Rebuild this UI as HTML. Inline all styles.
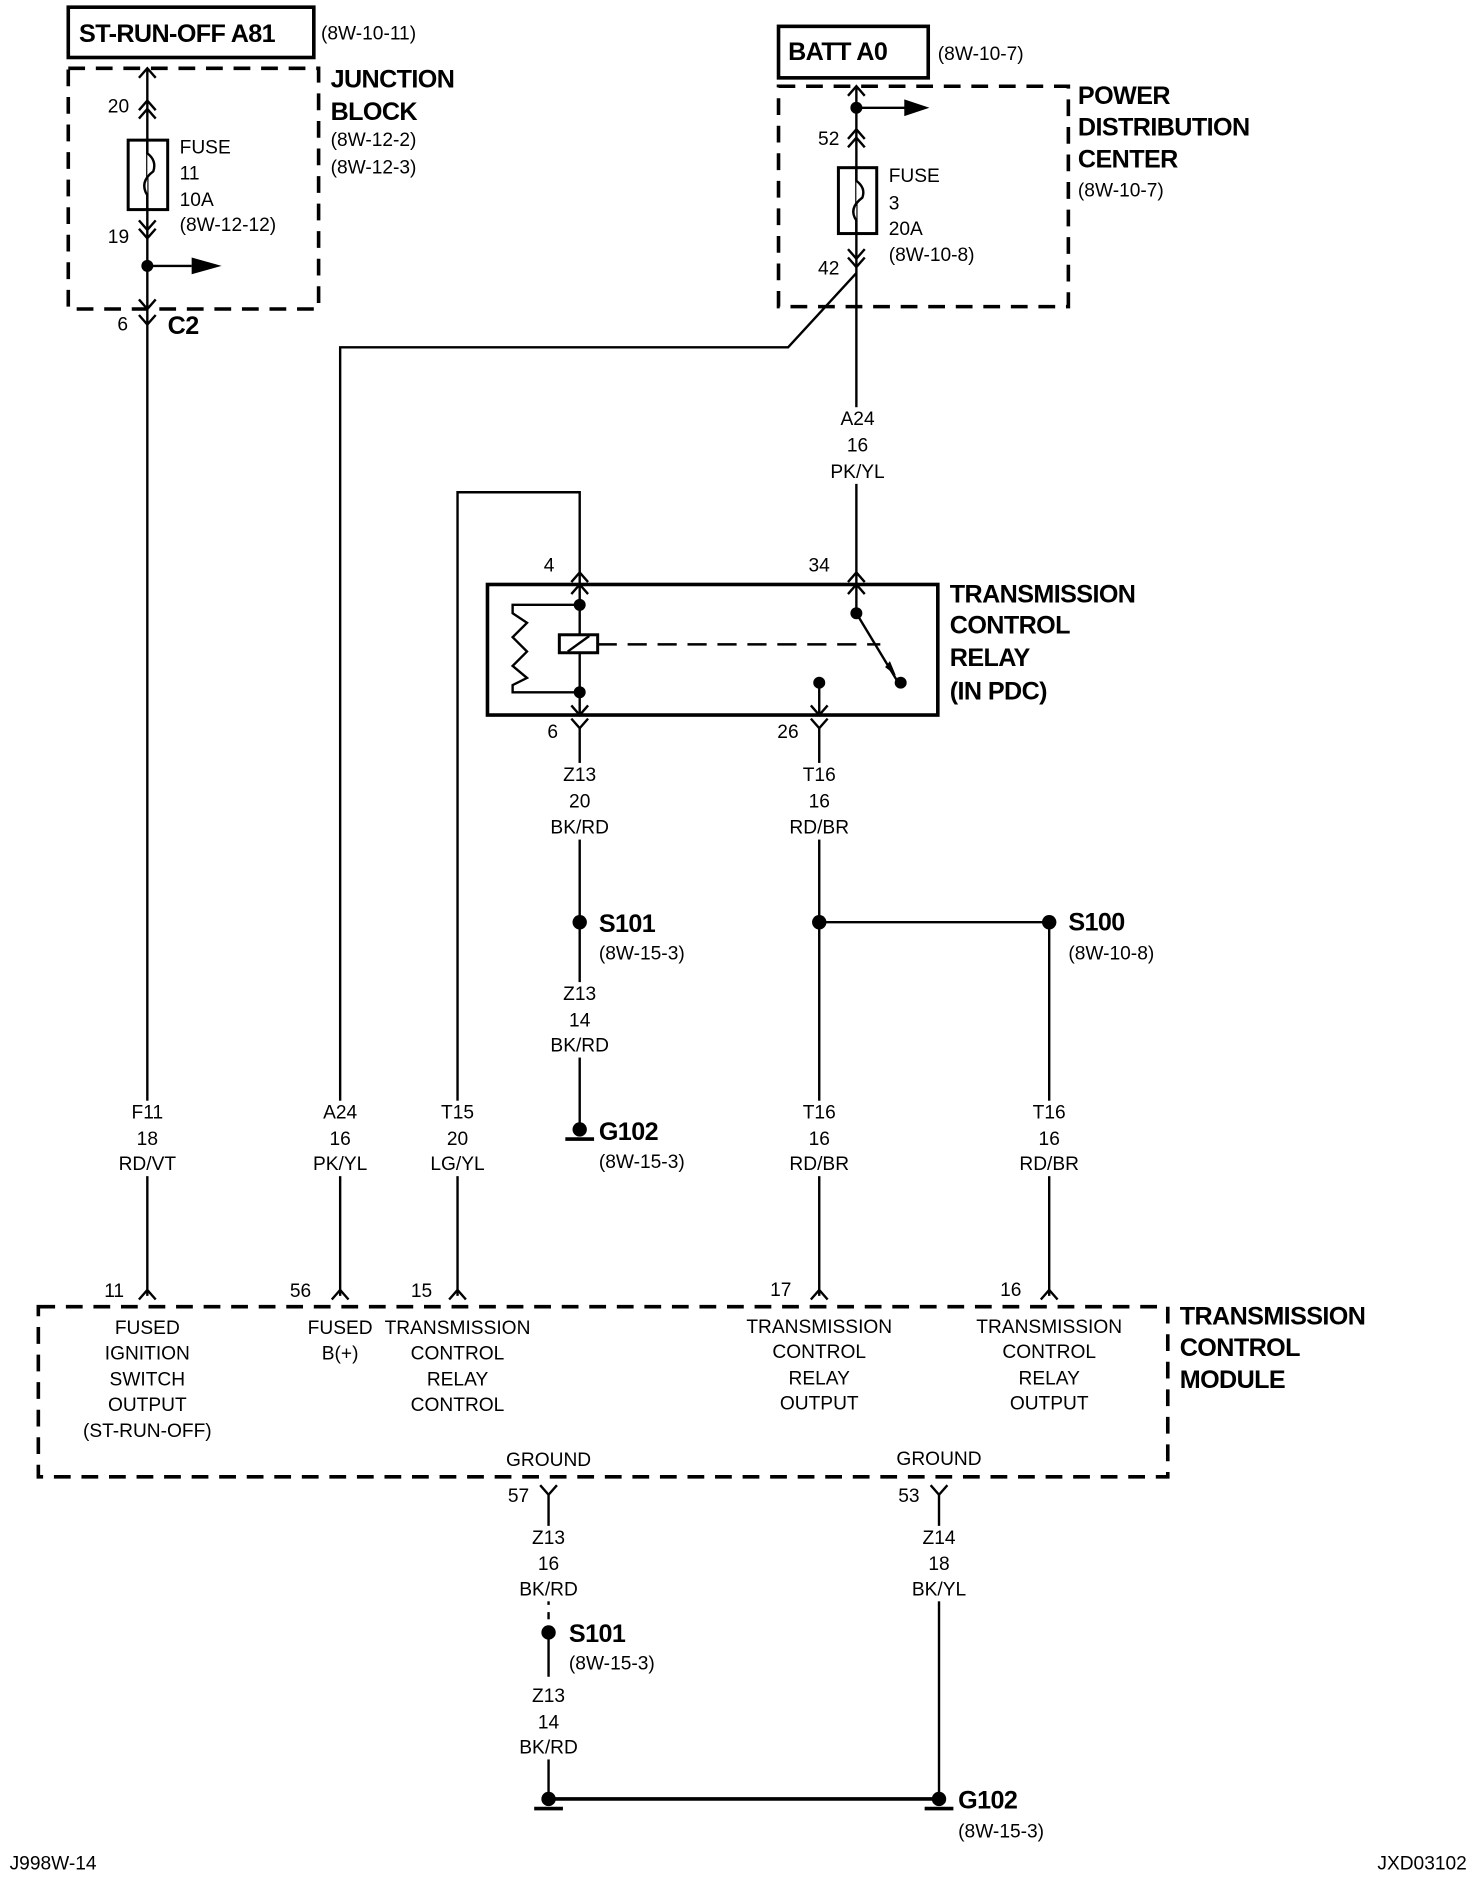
<!DOCTYPE html>
<html><head><meta charset="utf-8"><style>
html,body{margin:0;padding:0;background:#fff;}
svg{display:block;}
text{font-family:"Liberation Sans Narrow","Liberation Sans",sans-serif;fill:#000;}
.s{font-size:16px;}
.b{font-size:21px;font-weight:bold;letter-spacing:-0.5px;}
.c{text-anchor:middle;}
</style></head><body>
<svg width="1472" height="1878" viewBox="0 0 1229 1568" xmlns="http://www.w3.org/2000/svg">
<g fill="none" stroke="#000" stroke-width="2">
<!-- top-left -->
<rect x="57" y="6" width="205" height="42" stroke-width="3"/>
<rect x="57" y="57" width="209" height="201" stroke-width="3" stroke-dasharray="14,9"/>
<line x1="123" y1="57" x2="123" y2="1082"/>
<path d="M116 65 L123 57 L130 65"/>
<path d="M116 92 L123 84 L130 92 M116 99 L123 91 L130 99"/>
<rect x="107" y="117" width="33" height="58" stroke-width="2.5"/>
<path d="M123 117 L123 128 Q131 134 128 143 Q116 152 123 163 L123 175" fill="#fff"/>
<path d="M116 184 L123 192 L130 184 M116 191 L123 199 L130 191"/>
<line x1="123" y1="222" x2="160" y2="222"/>
<path d="M116 250 L123 258 L130 250"/>
<path d="M116 263 L123 271 L130 263"/>
<!-- top-right -->
<rect x="650" y="22" width="125" height="43" stroke-width="3"/>
<rect x="650" y="72" width="242" height="184" stroke-width="3" stroke-dasharray="14,9"/>
<line x1="715" y1="72" x2="715" y2="488"/>
<path d="M708 80 L715 72 L722 80"/>
<line x1="715" y1="90" x2="758" y2="90"/>
<path d="M708 116 L715 108 L722 116 M708 123 L715 115 L722 123"/>
<rect x="700" y="140" width="32" height="55" stroke-width="2.5"/>
<path d="M715 140 L715 151 Q723 157 720 165 Q708 174 715 184 L715 195" fill="#fff"/>
<path d="M708 208 L715 216 L722 208 M708 215 L715 223 L722 215"/>
<path d="M715 228 L658 290 L284 290 L284 1082"/>
<!-- relay -->
<path d="M382 1082 L382 411 L484 411 L484 488"/>
<path d="M477 486 L484 478 L491 486"/>
<path d="M708 486 L715 478 L722 486"/>
<path d="M477 496 L484 488 L491 496"/>
<path d="M708 496 L715 488 L722 496"/>
<rect x="407" y="488" width="376" height="109" stroke-width="3"/>
<line x1="484" y1="488" x2="484" y2="597"/>
<rect x="467" y="530" width="32" height="15" fill="#fff" stroke-width="2.5"/>
<line x1="474" y1="544" x2="492" y2="531"/>
<path d="M484 505 L428 505 L428 512 L440 520 L428 532 L440 544 L428 556 L440 566 L428 572 L428 578 L484 578"/>
<line x1="499" y1="538" x2="735" y2="538" stroke-dasharray="16,9"/>
<line x1="715" y1="488" x2="715" y2="512"/>
<line x1="715" y1="512" x2="750" y2="570"/>
<line x1="684" y1="570" x2="684" y2="597"/>
<path d="M677 589 L684 597 L691 589"/>
<path d="M477 589 L484 597 L491 589"/>
<path d="M477 600 L484 608 L491 600"/>
<path d="M677 600 L684 608 L691 600"/>
<line x1="484" y1="608" x2="484" y2="943"/>
<line x1="684" y1="608" x2="684" y2="1082"/>
<line x1="684" y1="770" x2="876" y2="770"/>
<line x1="876" y1="770" x2="876" y2="1082"/>
<line x1="472" y1="951" x2="496" y2="951" stroke-width="3"/>
<!-- TCM -->
<rect x="32" y="1091" width="943" height="142" stroke-width="3" stroke-dasharray="14,9"/>
<path d="M116 1085 L123 1077 L130 1085 M277 1085 L284 1077 L291 1085 M375 1085 L382 1077 L389 1085 M677 1085 L684 1077 L691 1085 M869 1085 L876 1077 L883 1085"/>
<path d="M451 1240 L458 1248 L465 1240 M777 1240 L784 1248 L791 1240"/>
<line x1="458" y1="1248" x2="458" y2="1340"/>
<line x1="458" y1="1346" x2="458" y2="1352"/>
<line x1="458" y1="1363" x2="458" y2="1400"/>
<line x1="458" y1="1440" x2="458" y2="1502"/>
<line x1="784" y1="1248" x2="784" y2="1502"/>
<line x1="458" y1="1502" x2="784" y2="1502" stroke-width="3"/>
<line x1="446" y1="1510" x2="470" y2="1510" stroke-width="3"/>
<line x1="772" y1="1510" x2="796" y2="1510" stroke-width="3"/>
</g>
<g fill="#000">
<circle cx="123" cy="222" r="5"/><path d="M160 215 L185 222 L160 229Z"/>
<circle cx="715" cy="90" r="5"/><path d="M755 83 L776 90 L755 97Z"/>
<circle cx="484" cy="505" r="5"/><circle cx="484" cy="578" r="5"/>
<circle cx="715" cy="512" r="5"/><circle cx="752" cy="570" r="5"/><circle cx="684" cy="570" r="5"/>
<path d="M743 552 L748 564 L739 557Z"/>
<circle cx="484" cy="770" r="6"/><circle cx="684" cy="770" r="6"/><circle cx="876" cy="770" r="6"/>
<circle cx="484" cy="943" r="6"/>
<circle cx="458" cy="1363" r="6"/>
<circle cx="458" cy="1502" r="6"/><circle cx="784" cy="1502" r="6"/>
</g>
<!-- white masks behind wire labels -->
<g fill="#fff">
<rect x="690" y="340" width="52" height="64"/>
<rect x="456" y="637" width="56" height="64"/>
<rect x="656" y="637" width="56" height="64"/>
<rect x="456" y="820" width="56" height="63"/>
<rect x="95" y="919" width="56" height="63"/>
<rect x="256" y="919" width="56" height="63"/>
<rect x="354" y="919" width="56" height="63"/>
<rect x="656" y="919" width="56" height="63"/>
<rect x="848" y="919" width="56" height="63"/>
<rect x="430" y="1274" width="56" height="63"/>
<rect x="430" y="1406" width="56" height="63"/>
<rect x="756" y="1274" width="56" height="63"/>
</g>
<text class="b" x="66" y="35">ST-RUN-OFF A81</text>
<text class="s" x="268" y="33">(8W-10-11)</text>
<text class="b" x="276" y="73">JUNCTION</text>
<text class="b" x="276" y="100">BLOCK</text>
<text class="s" x="276" y="122">(8W-12-2)</text>
<text class="s" x="276" y="145">(8W-12-3)</text>
<text class="s" x="150" y="128">FUSE</text>
<text class="s" x="150" y="150">11</text>
<text class="s" x="150" y="172">10A</text>
<text class="s" x="150" y="193">(8W-12-12)</text>
<text class="s" x="90" y="94">20</text>
<text class="s" x="90" y="203">19</text>
<text class="s" x="98" y="276">6</text>
<text class="b" x="140" y="279">C2</text>

<text class="b" x="658" y="50">BATT A0</text>
<text class="s" x="783" y="50">(8W-10-7)</text>
<text class="b" x="900" y="87">POWER</text>
<text class="b" x="900" y="113">DISTRIBUTION</text>
<text class="b" x="900" y="140">CENTER</text>
<text class="s" x="900" y="164">(8W-10-7)</text>
<text class="s" x="742" y="152">FUSE</text>
<text class="s" x="742" y="175">3</text>
<text class="s" x="742" y="196">20A</text>
<text class="s" x="742" y="218">(8W-10-8)</text>
<text class="s" x="683" y="121">52</text>
<text class="s" x="683" y="229">42</text>
<g class="s c">
<text x="716" y="355">A24</text><text x="716" y="377">16</text><text x="716" y="399">PK/YL</text>
<text x="484" y="652">Z13</text><text x="484" y="674">20</text><text x="484" y="696">BK/RD</text>
<text x="684" y="652">T16</text><text x="684" y="674">16</text><text x="684" y="696">RD/BR</text>
<text x="484" y="835">Z13</text><text x="484" y="857">14</text><text x="484" y="878">BK/RD</text>
<text x="123" y="934">F11</text><text x="123" y="956">18</text><text x="123" y="977">RD/VT</text>
<text x="284" y="934">A24</text><text x="284" y="956">16</text><text x="284" y="977">PK/YL</text>
<text x="382" y="934">T15</text><text x="382" y="956">20</text><text x="382" y="977">LG/YL</text>
<text x="684" y="934">T16</text><text x="684" y="956">16</text><text x="684" y="977">RD/BR</text>
<text x="876" y="934">T16</text><text x="876" y="956">16</text><text x="876" y="977">RD/BR</text>
<text x="458" y="1289">Z13</text><text x="458" y="1311">16</text><text x="458" y="1332">BK/RD</text>
<text x="458" y="1421">Z13</text><text x="458" y="1443">14</text><text x="458" y="1464">BK/RD</text>
<text x="784" y="1289">Z14</text><text x="784" y="1311">18</text><text x="784" y="1332">BK/YL</text>
</g>
<text class="s" x="454" y="477">4</text>
<text class="s" x="675" y="477">34</text>
<text class="s" x="457" y="616">6</text>
<text class="s" x="649" y="616">26</text>
<text class="b" x="793" y="503">TRANSMISSION</text>
<text class="b" x="793" y="529">CONTROL</text>
<text class="b" x="793" y="556">RELAY</text>
<text class="b" x="793" y="584">(IN PDC)</text>
<text class="b" x="500" y="778">S101</text>
<text class="s" x="500" y="801">(8W-15-3)</text>
<text class="b" x="892" y="777">S100</text>
<text class="s" x="892" y="801">(8W-10-8)</text>
<text class="b" x="500" y="952">G102</text>
<text class="s" x="500" y="975">(8W-15-3)</text>

<text class="s" x="87" y="1083">11</text>
<text class="s" x="242" y="1083">56</text>
<text class="s" x="343" y="1083">15</text>
<text class="s" x="643" y="1082">17</text>
<text class="s" x="835" y="1082">16</text>
<g class="s c">
<text x="123" y="1114">FUSED</text><text x="123" y="1135">IGNITION</text><text x="123" y="1157">SWITCH</text><text x="123" y="1178">OUTPUT</text><text x="123" y="1200">(ST-RUN-OFF)</text>
<text x="284" y="1114">FUSED</text><text x="284" y="1135">B(+)</text>
<text x="382" y="1114">TRANSMISSION</text><text x="382" y="1135">CONTROL</text><text x="382" y="1157">RELAY</text><text x="382" y="1178">CONTROL</text>
<text x="684" y="1113">TRANSMISSION</text><text x="684" y="1134">CONTROL</text><text x="684" y="1156">RELAY</text><text x="684" y="1177">OUTPUT</text>
<text x="876" y="1113">TRANSMISSION</text><text x="876" y="1134">CONTROL</text><text x="876" y="1156">RELAY</text><text x="876" y="1177">OUTPUT</text>
<text x="458" y="1224">GROUND</text><text x="784" y="1223">GROUND</text>
</g>
<text class="b" x="985" y="1106">TRANSMISSION</text>
<text class="b" x="985" y="1132">CONTROL</text>
<text class="b" x="985" y="1159">MODULE</text>
<text class="s" x="424" y="1254">57</text>
<text class="s" x="750" y="1254">53</text>
<text class="b" x="475" y="1371">S101</text>
<text class="s" x="475" y="1394">(8W-15-3)</text>
<text class="b" x="800" y="1510">G102</text>
<text class="s" x="800" y="1534">(8W-15-3)</text>
<text class="s" x="8" y="1561">J998W-14</text>
<text class="s" x="1150" y="1561">JXD03102</text>
</svg>
</body></html>
